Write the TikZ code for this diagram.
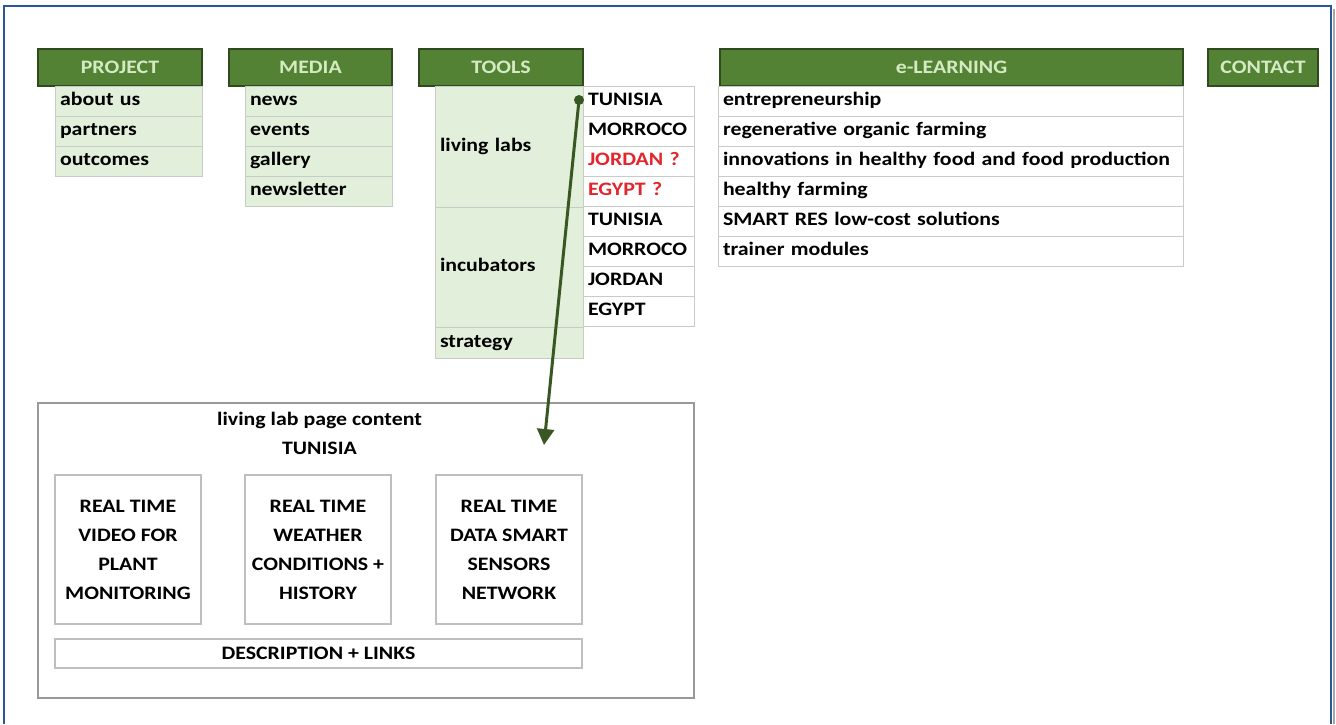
\documentclass[tikz,border=0pt]{standalone}
\usepackage{fontspec}
\setmainfont{Carlito}[FakeStretch=1.15]
\usepackage{tikz}
\usetikzlibrary{arrows.meta}
\definecolor{hdgreen}{HTML}{548235}
\definecolor{hdline}{HTML}{2E4A1E}
\definecolor{hdtext}{HTML}{D4EAC2}
\definecolor{subgreen}{HTML}{E2EFDA}
\definecolor{subline}{HTML}{C8CCC6}
\definecolor{arrgreen}{HTML}{385723}
\definecolor{qred}{HTML}{E3262B}
\definecolor{frameblue}{HTML}{2B579A}
\tikzset{f/.style={font=\bfseries\fontsize{19}{29}\selectfont}}
\tikzset{hd/.style={f,draw=hdline,fill=hdgreen,text=hdtext,line width=1.5pt,minimum height=37pt,inner sep=0pt}}
\tikzset{sub/.style={f,draw=subline,fill=subgreen,line width=1pt,minimum height=30pt,inner xsep=5pt,inner ysep=0pt,text height=13pt,text depth=4pt,align=left,text width=#1}}
\tikzset{cell/.style={f,draw=subline,fill=white,line width=1pt,minimum height=30pt,inner xsep=5pt,inner ysep=0pt,text height=13pt,text depth=4pt,align=left,text width=#1}}
\tikzset{card/.style={f,draw=black!25,line width=1.5pt,minimum width=146pt,minimum height=149pt,align=center,inner sep=0pt}}

\begin{document}
\begin{tikzpicture}[x=1pt,y=-1pt]
      \useasboundingbox (0,0) rectangle (1336,724);
      % outer frame, open at the bottom
      \draw[black!35,line width=2pt] (1334,724)--(1334,9);
      \draw[frameblue,line width=2.5pt] (4,724)--(4,6)--(1331,6)--(1331,724);

      % menu headers
      \node[hd,minimum width=164pt] (PROJECT) at (120,67.5) {PROJECT};
      \node[hd,minimum width=163pt] (MEDIA) at (310.5,67.5) {MEDIA};
      \node[hd,minimum width=164pt] (TOOLS) at (501,67.5) {TOOLS};
      \node[hd,minimum width=463pt] (ELEARN) at (951.5,67.5) {e-LEARNING};
      \node[hd,minimum width=110pt] (CONTACT) at (1263,67.5) {CONTACT};

      % PROJECT
      \node[sub=137pt] (about) at (128.5,101) {about us};
      \node[sub=137pt] (partners) at (128.5,131) {partners};
      \node[sub=137pt] (outcomes) at (128.5,161) {outcomes};

      % MEDIA
      \node[sub=137pt] (news) at (318.5,101) {news};
      \node[sub=137pt] (events) at (318.5,131) {events};
      \node[sub=137pt] (gallery) at (318.5,161) {gallery};
      \node[sub=137pt] (newsletter) at (318.5,191) {newsletter};

      % TOOLS
      \node[sub=138pt,minimum height=121pt] (living) at (509,146.5) {living labs};
      \node[sub=138pt,minimum height=120pt] (incub) at (509,267) {incubators};
      \node[sub=138pt,minimum height=31pt] (strategy) at (509,342.5) {strategy};
      \node[cell=101pt] (llTN) at (638.5,101) {TUNISIA};
      \node[cell=101pt] (llMA) at (638.5,131) {MORROCO};
      \node[cell=101pt,text=qred] (llJO) at (638.5,161) {JORDAN ?};
      \node[cell=101pt,text=qred] (llEG) at (638.5,191) {EGYPT ?};
      \node[cell=101pt] (inTN) at (638.5,221) {TUNISIA};
      \node[cell=101pt] (inMA) at (638.5,251) {MORROCO};
      \node[cell=101pt] (inJO) at (638.5,281) {JORDAN};
      \node[cell=101pt] (inEG) at (638.5,311) {EGYPT};

      % e-LEARNING
      \node[cell=455pt] (el1) at (950.5,101) {entrepreneurship};
      \node[cell=455pt] (el2) at (950.5,131) {regenerative organic farming};
      \node[cell=455pt] (el3) at (950.5,161) {innovations in healthy food and food production};
      \node[cell=455pt] (el4) at (950.5,191) {healthy farming};
      \node[cell=455pt] (el5) at (950.5,221) {SMART RES low-cost solutions};
      \node[cell=455pt] (el6) at (950.5,251) {trainer modules};

      % living lab page
      \node[draw=black!40,line width=2pt,minimum width=656pt,minimum height=295pt] (page) at (366,550.5) {};
      \node[f,align=center] (title) at (319.5,433.5) {living lab page content\\TUNISIA};
      \node[card] (video) at (128,549.5) {REAL TIME\\VIDEO FOR\\PLANT\\MONITORING};
      \node[card] (weather) at (318,549.5) {REAL TIME\\WEATHER\\CONDITIONS +\\HISTORY};
      \node[card] (sensors) at (509,549.5) {REAL TIME\\DATA SMART\\SENSORS\\NETWORK};
      \node[f,draw=black!25,line width=1.5pt,minimum width=527pt,minimum height=29pt,inner sep=0pt] (desc) at (318.5,653.5) {DESCRIPTION + LINKS};

      % link from the TUNISIA living lab to its page
      \coordinate (src) at (579,100);
      \coordinate (dst) at (544,445);
      \fill[arrgreen] (src) circle (5pt);
      \draw[arrgreen,line width=3pt,-{Triangle[length=16pt,width=17pt]}] (src)--(dst);
    \end{tikzpicture}
\end{document}
